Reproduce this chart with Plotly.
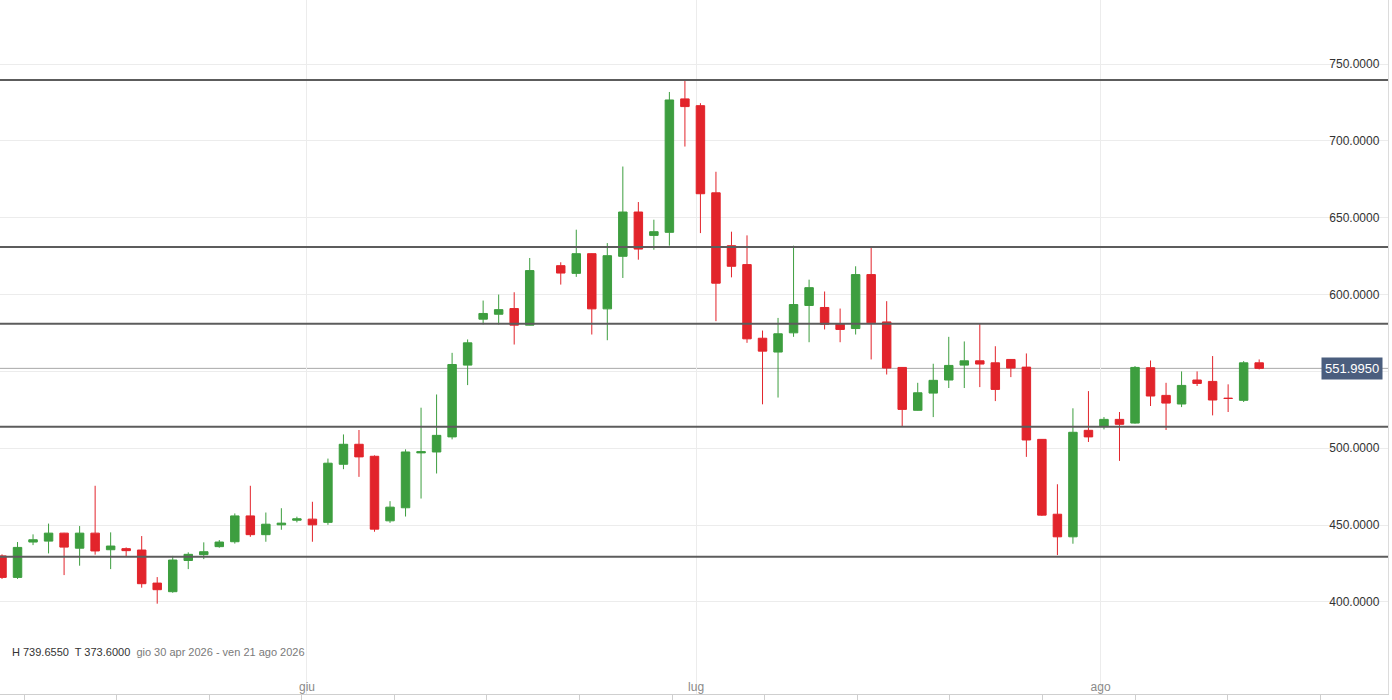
import pandas as pd
import plotly.graph_objects as go

# trading days shown on the chart (one slot per weekday, 18 Jun has no candle)
dates = pd.bdate_range("2026-04-30", "2026-08-21")

opens = [430, 416, 439, 439.6, 444.8, 435, 444.8, 434, 434.7, 433.8,
         412.3, 406.7, 427, 430.8, 436, 439.2, 456, 443.8, 450.2, 453.2,
         453.9, 451.8, 489.6, 502.6, 494.8, 452.8, 461.3, 497, 497.6, 507.4,
         554.1, 584, 587.2, 590.9, 580.1, None, 618.8, 613.8, 626.6, 590.7,
         624.9, 653.7, 638.5, 640.5, 727.3, 722.9, 666.2, 631.8, 619.5, 571.6,
         562.6, 575.1, 592.9, 591.6, 580.7, 577.9, 613, 582.2, 552.6, 524.7,
         535.9, 544.4, 554.1, 556.9, 555.6, 557.8, 552.8, 505.8, 457.1, 442.4,
         511.7, 514.1, 518.8, 516.4, 552.4, 534.4, 528.8, 544.4, 543.5, 532.6,
         531.2, 555.6]
highs = [431, 439, 444, 451, 445, 449.4, 475.6, 445.3, 435.5, 442.9,
         416.2, 430, 432.3, 438.8, 440.3, 457.6, 475.6, 458.2, 461, 455.5,
         465.2, 493.3, 509, 511.9, 495.4, 465.6, 499.3, 526.4, 535, 562.1,
         570.8, 596.1, 600, 601.5, 623.8, None, 621, 642.2, 626.8, 633.5,
         683.3, 660.2, 648.7, 731.8, 739.655, 724.5, 679.9, 640.9, 638.5, 576.6,
         584.8, 631.8, 609.7, 602, 590.9, 618.4, 630.9, 595.7, 552.8, 542.6,
         555, 572.5, 569.5, 580.9, 566.4, 558, 561.7, 506, 476.6, 526,
         537.2, 520.3, 523.6, 553.5, 557.1, 542.6, 550, 550, 560, 541.6,
         556.7, 557.8]
lows = [415, 415, 437, 431.6, 417.5, 423.6, 430.8, 421.4, 429.4, 409.3,
        398.9, 406, 421.4, 427.9, 435.3, 438, 442.4, 439.2, 447, 451.8,
        439.2, 450.2, 486.4, 481.4, 445.7, 451.5, 455.6, 467.3, 483.6, 505.8,
        541.1, 580.5, 580.5, 567.5, 580, None, 606.5, 611.5, 574, 570.3,
        610.8, 622.7, 629.2, 631.8, 696.3, 640, 582.7, 611.2, 568.6, 528.6,
        533, 572.5, 569, 577.3, 569, 574, 557.8, 548, 514, 524.5,
        520.3, 539.2, 539.2, 539.8, 530.7, 546.3, 494.4, 456, 430.5, 437.9,
        504.1, 512.3, 491.8, 516, 527.5, 511.9, 526.8, 540.5, 521.4, 523.6,
        530.1, 551.3]
closes = [416, 435.5, 440.5, 444.8, 435.7, 444.8, 433.2, 436.4, 433.4, 411.9,
          408, 427.3, 431, 432.7, 439, 456, 443.8, 450.6, 451.3, 454.1,
          450.2, 490.3, 502.6, 494.4, 447.4, 461.7, 497.6, 497.8, 508.4, 554.5,
          568.6, 587.7, 590.2, 580.1, 615.6, None, 614, 626.6, 590.7, 625.3,
          653.7, 629.6, 640.9, 726.6, 722.3, 665.6, 607.4, 618.4, 571.2, 563.2,
          574.5, 593.5, 604.5, 580.7, 577.3, 613, 581.6, 552.2, 525.3, 536.1,
          544.2, 553.9, 556.9, 554.8, 538.3, 552.2, 505.4, 456.5, 442.4, 510.4,
          507.4, 518.8, 515.6, 552.6, 534, 529.4, 540.9, 542.2, 531.4, 532.4,
          555.6, 551.995]

# support / resistance levels drawn on the chart
levels = [739.655, 631.0, 581.0, 514.0, 429.5]
last_price = 551.995

price_ticks = [400, 450, 500, 550, 600, 650, 700, 750]
month_labels = ["giu", "lug", "ago"]
month_pos = [19.65, 44.72, 70.78]

slots = list(range(len(dates)))
hover = [d.strftime("%d %b %Y") for d in dates]

fig = go.Figure(go.Candlestick(
    x=slots, open=opens, high=highs, low=lows, close=closes,
    text=hover, hoverinfo="text+y",
    increasing=dict(line=dict(color="#3d9e3f", width=1), fillcolor="#3d9e3f"),
    decreasing=dict(line=dict(color="#e2242b", width=1), fillcolor="#e2242b"),
    whiskerwidth=0,
))

for lvl in levels:
    fig.add_shape(type="line", xref="paper", x0=0, x1=1, y0=lvl, y1=lvl,
                  line=dict(color="#5c5c5c", width=2), layer="above")

fig.add_shape(type="line", xref="paper", x0=0, x1=1, y0=last_price, y1=last_price,
              line=dict(color="#a8a8a8", width=1), layer="below")

fig.add_annotation(xref="paper", x=0.9964, xanchor="right", y=last_price, yanchor="middle",
                   text=f"{last_price:.4f}", showarrow=False,
                   font=dict(color="white", size=13, family="Liberation Sans, Arial"),
                   bgcolor="#4b5e7e", borderpad=3)

fig.add_annotation(xref="paper", yref="paper", x=0.007, y=0.0605, xanchor="left", yanchor="middle",
                   text="H 739.6550  T 373.6000  <span style='color:#7a7a7a'>gio 30 apr 2026 - ven 21 ago 2026</span>",
                   showarrow=False, font=dict(color="#333333", size=11, family="Liberation Sans, Arial"))

tick_text = [f"{v:.4f}" if v != 550 else "" for v in price_ticks]

fig.update_layout(
    width=1392, height=700,
    margin=dict(l=0, r=4, t=0, b=6),
    paper_bgcolor="white", plot_bgcolor="white",
    showlegend=False,
    boxgap=0.22,
    font=dict(family="Liberation Sans, Arial", size=12, color="#333333"),
    xaxis=dict(
        range=[-0.129, 89.3], rangeslider=dict(visible=False),
        tickmode="array", tickvals=month_pos, ticktext=month_labels,
        ticklabelposition="inside", ticks="",
        tickfont=dict(color="#8a8a8a", size=12),
        showgrid=True, gridcolor="#ececec", gridwidth=1,
        showline=True, linecolor="#cfcfcf", linewidth=1,
        zeroline=False, fixedrange=True,
        minor=dict(tick0=1.42, dtick=5.965, ticks="outside", ticklen=6,
                   tickcolor="#cfcfcf", showgrid=False),
    ),
    yaxis=dict(
        range=[340.14, 791.64], side="right",
        tickmode="array", tickvals=price_ticks, ticktext=tick_text,
        ticklabelposition="inside", ticks="", ticklabelstandoff=8,
        tickfont=dict(color="#333333", size=12),
        showgrid=True, gridcolor="#ececec", gridwidth=1,
        showline=True, linecolor="#dcdcdc", linewidth=1,
        zeroline=False, fixedrange=True,
    ),
)

fig.write_html("out.html", config={"displayModeBar": False},
               post_script="document.body.style.margin='0';")
